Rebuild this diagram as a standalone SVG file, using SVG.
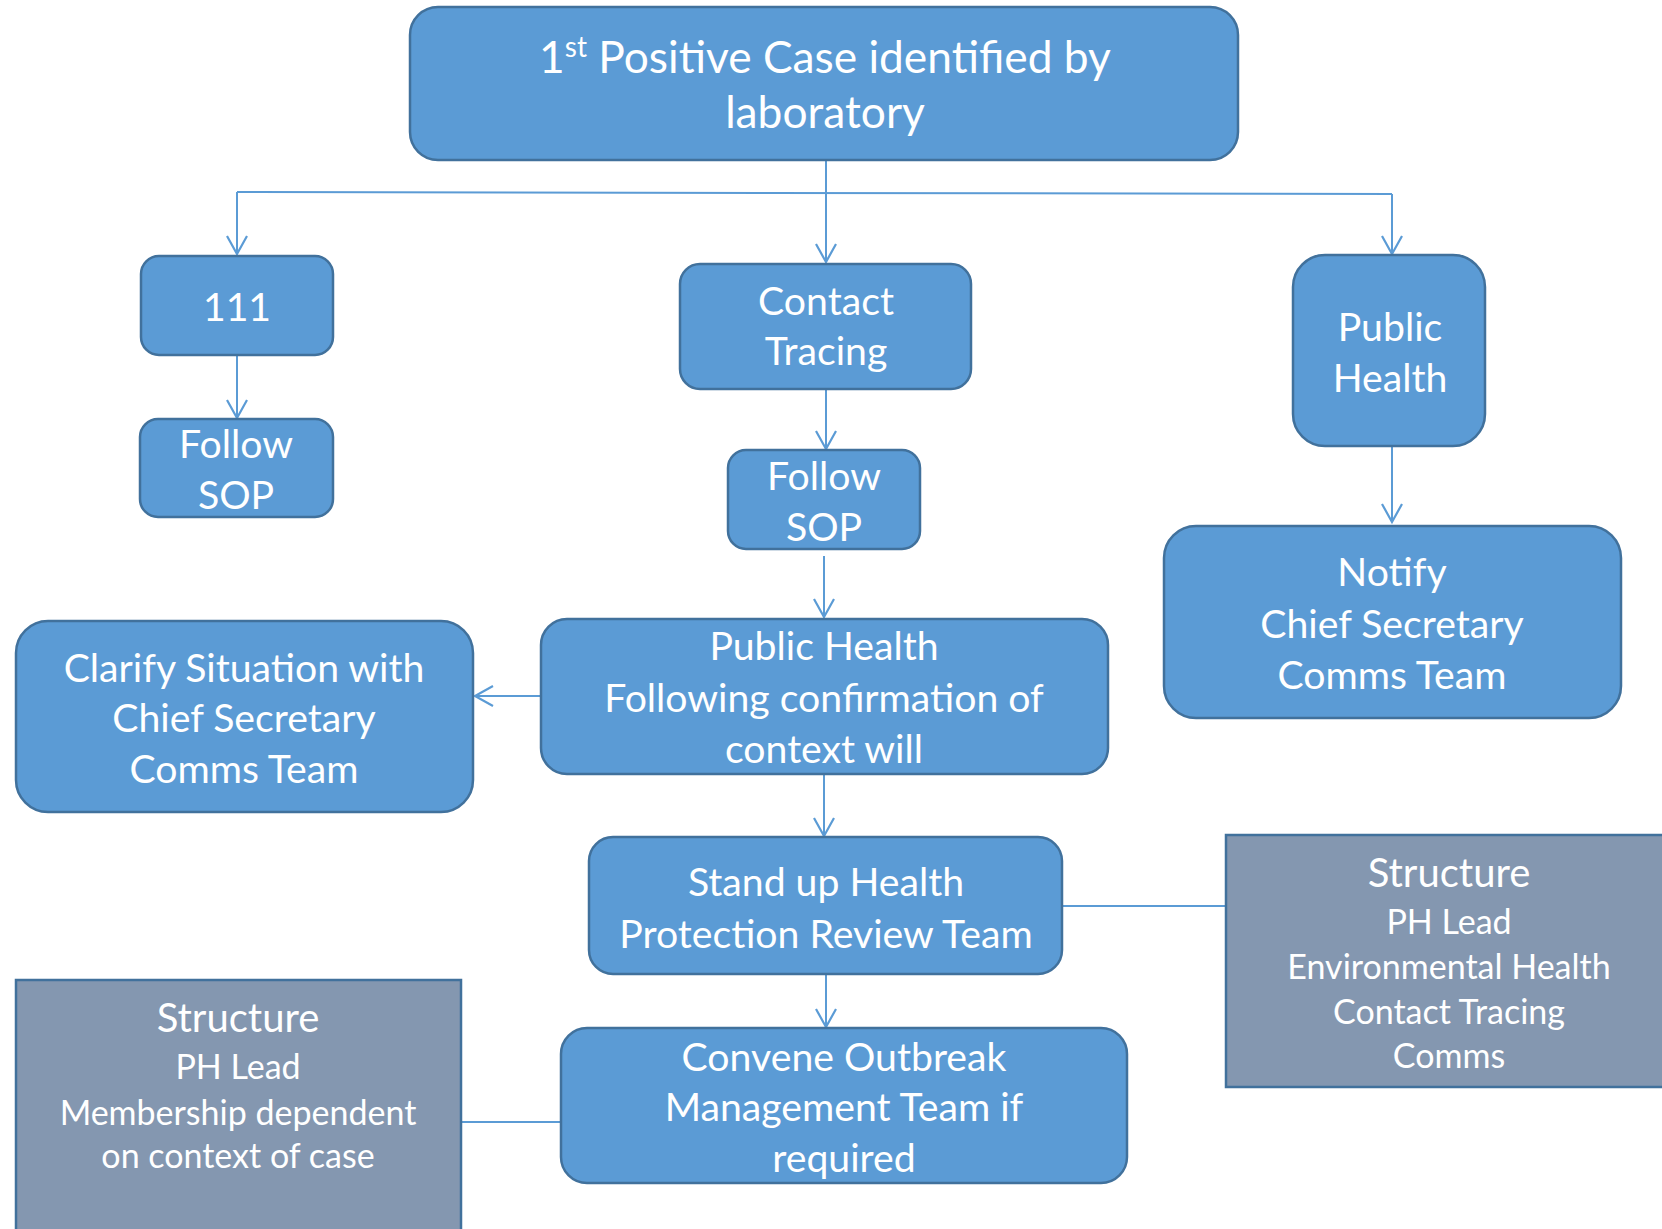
<svg xmlns="http://www.w3.org/2000/svg" width="1662" height="1229" viewBox="0 0 1662 1229">
<defs>
<style>
.n{fill:#5B9BD5;stroke:#41719C;stroke-width:2.5}
.g{fill:#8497B0;stroke:#41719C;stroke-width:2.5}
.t{font-family:Lato,"Open Sans",sans-serif;fill:#fff;text-anchor:middle;font-size:39.2px}
.s{font-size:34px}
.h{font-size:40px}
.c{fill:none;stroke:#5B9BD5;stroke-width:2}
</style>
<marker id="a" markerUnits="userSpaceOnUse" markerWidth="24" markerHeight="24" viewBox="0 0 24 24" refX="20" refY="12" orient="auto">
<path d="M2,2 L20,12 L2,22" fill="none" stroke="#5B9BD5" stroke-width="2.2"/>
</marker>
</defs>
<rect width="1662" height="1229" fill="#fff"/>
<g id="connectors">
<path class="c" d="M237,192 L1392,194"/>
<path class="c" d="M826,160 L826,262" marker-end="url(#a)"/>
<path class="c" d="M237,192 L237,254" marker-end="url(#a)"/>
<path class="c" d="M1392,194 L1392,254" marker-end="url(#a)"/>
<path class="c" d="M237,355 L237,418" marker-end="url(#a)"/>
<path class="c" d="M826,389 L826,449" marker-end="url(#a)"/>
<path class="c" d="M824,556 L824,617" marker-end="url(#a)"/>
<path class="c" d="M1392,446 L1392,522" marker-end="url(#a)"/>
<path class="c" d="M541,696 L475,696" marker-end="url(#a)"/>
<path class="c" d="M824,774 L824,836" marker-end="url(#a)"/>
<path class="c" d="M826,974 L826,1027" marker-end="url(#a)"/>
<path class="c" d="M1062,906 L1226,906"/>
<path class="c" d="M461,1122 L561,1122"/>
</g>
<g id="top">
<rect class="n" x="410" y="7" width="828" height="153" rx="28"/>
<text class="t" x="825" y="73" style="font-size:44.3px">1<tspan dy="-16" style="font-size:28px">st</tspan><tspan dy="16"> Positive Case identified by</tspan></text>
<text class="t" x="825" y="128" style="font-size:44.3px">laboratory</text>
</g>
<g id="n111">
<rect class="n" x="141" y="256" width="192" height="99" rx="18"/>
<text class="t" x="237" y="321">111</text>
</g>
<g id="sop1">
<rect class="n" x="140" y="419" width="193" height="98" rx="18"/>
<text class="t" x="236" y="458">Follow</text>
<text class="t" x="236" y="509">SOP</text>
</g>
<g id="contact">
<rect class="n" x="680" y="264" width="291" height="125" rx="20"/>
<text class="t" x="826" y="315">Contact</text>
<text class="t" x="826" y="365">Tracing</text>
</g>
<g id="sop2">
<rect class="n" x="728" y="450" width="192" height="99" rx="18"/>
<text class="t" x="824" y="490">Follow</text>
<text class="t" x="824" y="541">SOP</text>
</g>
<g id="ph">
<rect class="n" x="1293" y="255" width="192" height="191" rx="32"/>
<text class="t" x="1390" y="341">Public</text>
<text class="t" x="1390" y="392">Health</text>
</g>
<g id="notify">
<rect class="n" x="1164" y="526" width="457" height="192" rx="32"/>
<text class="t" x="1392" y="586">Notify</text>
<text class="t" x="1392" y="638">Chief Secretary</text>
<text class="t" x="1392" y="689">Comms Team</text>
</g>
<g id="clarify">
<rect class="n" x="16" y="621" width="457" height="191" rx="32"/>
<text class="t" x="244" y="682">Clarify Situation with</text>
<text class="t" x="244" y="732">Chief Secretary</text>
<text class="t" x="244" y="783">Comms Team</text>
</g>
<g id="phc">
<rect class="n" x="541" y="619" width="567" height="155" rx="26"/>
<text class="t" x="824" y="660">Public Health</text>
<text class="t" x="824" y="712">Following confirmation of</text>
<text class="t" x="824" y="763">context will</text>
</g>
<g id="standup">
<rect class="n" x="589" y="837" width="473" height="137" rx="24"/>
<text class="t" x="826" y="896">Stand up Health</text>
<text class="t" x="826" y="948">Protection Review Team</text>
</g>
<g id="convene">
<rect class="n" x="561" y="1028" width="566" height="155" rx="26"/>
<text class="t" x="844" y="1071">Convene Outbreak</text>
<text class="t" x="844" y="1121">Management Team if</text>
<text class="t" x="844" y="1172">required</text>
</g>
<g id="struct1">
<rect class="g" x="1226" y="835" width="446" height="252"/>
<text class="t h" x="1449" y="887">Structure</text>
<text class="t s" x="1449" y="934">PH Lead</text>
<text class="t s" x="1449" y="979">Environmental Health</text>
<text class="t s" x="1449" y="1024">Contact Tracing</text>
<text class="t s" x="1449" y="1068">Comms</text>
</g>
<g id="struct2">
<rect class="g" x="16" y="980" width="445" height="260"/>
<text class="t h" x="238" y="1032">Structure</text>
<text class="t s" x="238" y="1079">PH Lead</text>
<text class="t s" x="238" y="1125">Membership dependent</text>
<text class="t s" x="238" y="1168">on context of case</text>
</g>
</svg>
